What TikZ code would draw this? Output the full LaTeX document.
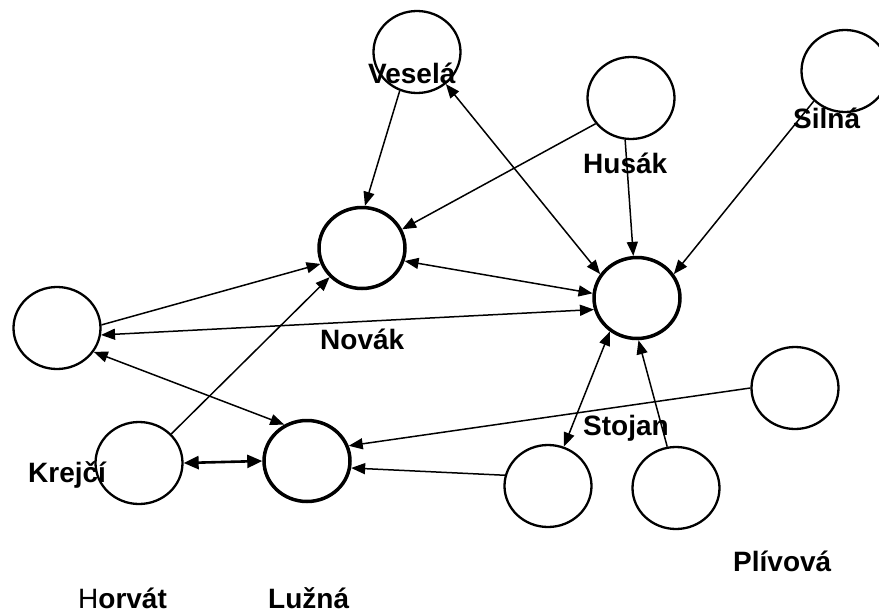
\documentclass[tikz,border=0pt]{standalone}
\usepackage{fontspec}
\setmainfont{Liberation Sans}
\usetikzlibrary{arrows.meta,shapes.geometric}
\begin{document}
\begin{tikzpicture}[x=1pt,y=-1pt,
  person/.style={ellipse,draw,line width=2.3pt,minimum width=87pt,minimum height=82pt,inner sep=0pt},
  hub/.style={person,line width=3.5pt,minimum width=86pt,minimum height=81pt},
  lbl/.style={anchor=base west,inner sep=0pt,font=\fontsize{28}{30}\selectfont\bfseries},
  link/.style={line width=1.5pt,-{Triangle[length=14pt,width=11pt]}},
  both/.style={line width=1.5pt,{Triangle[length=14pt,width=11pt]}-{Triangle[length=14pt,width=11pt]}},
  heavy/.style={line width=2.6pt,{Triangle[length=15pt,width=13pt]}-{Triangle[length=15pt,width=13pt]}}
]
\fill[white] (0,0) rectangle (879,616);
\useasboundingbox (0,0) rectangle (879,616);

% circles
\node[person] (cVes) at (417,52) {};
\node[person] (cHus) at (631,98) {};
\node[person] (cSil) at (845,71) {};
\node[hub] (cCen) at (637,298) {};
\node[hub] (cNov) at (362,248) {};
\node[person] (cLeft) at (57,328) {};
\node[person] (cKre) at (139,463) {};
\node[hub] (cLuz) at (307,461) {};
\node[person] (cSto) at (548,486) {};
\node[person] (cPli) at (676,488) {};
\node[person] (cRgt) at (795,388) {};

% labels
\node[lbl] (lVes) at (368,83) {Veselá};
\node[lbl] (lHus) at (583,173) {Husák};
\node[lbl] (lSil) at (793,128) {Silná};
\node[lbl] (lNov) at (320,349) {Novák};
\node[lbl] (lKre) at (28,482) {Krejčí};
\node[lbl] (lSto) at (583,435) {Stojan};
\node[lbl] (lPli) at (733,571) {Plívová};
\node[lbl] (lHor) at (78,608) {{\mdseries H}orvát};
\node[lbl] (lLuz) at (268,608) {Lužná};

% connectors
\draw[link] (cVes.246) -- (cNov.86);
\draw[link] (cHus.216) -- (cNov.25);
\draw[both] (cVes.312) -- (cCen.147);
\draw[link] (cHus.262) -- (cCen.95);
\draw[link] (cSil.224) -- (cCen.33);
\draw[both] (cNov.343) -- (cCen.174);
\draw[link] (cLeft.4) -- (cNov.201);
\draw[both] (cLeft.351) -- (cCen.195);
\draw[both] (cLeft.327) -- (cLuz.122);
\draw[link] (cKre.42) -- (cNov.222);
\draw[heavy] (cKre.0) -- (cLuz.180);
\draw[link] (cRgt.180) -- (cLuz.20);
\draw[link] (cSto.166) -- (cLuz.351);
\draw[both] (cSto.68) -- (cCen.231);
\draw[link] (cPli.102) -- (cCen.272);
\end{tikzpicture}
\end{document}
